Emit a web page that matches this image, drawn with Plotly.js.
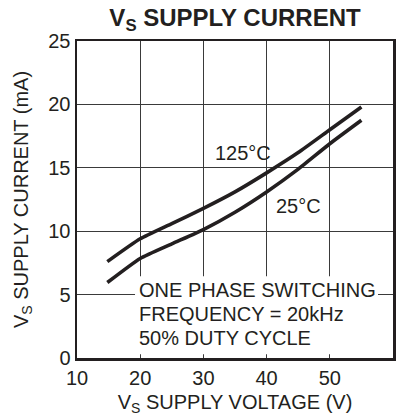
<!DOCTYPE html>
<html>
<head>
<meta charset="utf-8">
<script src="https://cdn.plot.ly/plotly-3.0.1.min.js"></script>
<style>html,body{margin:0;padding:0;background:#fff;}#chart{width:404px;height:416px;}</style>
</head>
<body>
<div id="chart"></div>
<script>
// Data
const voltage = [14.8, 20, 25, 30, 35, 40, 45, 50, 55];
const current125 = [7.6, 9.4, 10.6, 11.8, 13.1, 14.6, 16.2, 18.0, 19.8];
const current25 = [5.95, 7.85, 9.0, 10.13, 11.5, 13.1, 14.9, 16.9, 18.75];
const xTicks = [10, 20, 30, 40, 50, 60];
const yTicks = [0, 5, 10, 15, 20, 25];
const seriesNames = ['125°C', '25°C'];
const noteLines = ['ONE PHASE SWITCHING', 'FREQUENCY = 20kHz', '50% DUTY CYCLE'];

const ink = '#231f20';
const FONT = 'Liberation Sans, Arial, sans-serif';

const traces = [
  {x: voltage, y: current125, name: seriesNames[0], mode: 'lines', line: {color: ink, width: 3.6, shape: 'spline', smoothing: 0.5}, hoverinfo: 'skip'},
  {x: voltage, y: current25, name: seriesNames[1], mode: 'lines', line: {color: ink, width: 3.6, shape: 'spline', smoothing: 0.5}, hoverinfo: 'skip'}
];

const noteY = [5.39, 3.50, 1.58];
const annotations = [
  {x: 36.2, y: 16.2, xref: 'x', yref: 'y', text: seriesNames[0], showarrow: false, font: {family: FONT, size: 20, color: ink}},
  {x: 45.0, y: 12.0, xref: 'x', yref: 'y', text: seriesNames[1], showarrow: false, font: {family: FONT, size: 20, color: ink}}
];
noteLines.forEach((t, i) => annotations.push({
  x: 19.54, y: noteY[i], xref: 'x', yref: 'y', xanchor: 'left', yanchor: 'middle',
  text: t, showarrow: false, font: {family: FONT, size: 20, color: ink}
}));

const layout = {
  width: 404, height: 416,
  margin: {l: 77, r: 11, t: 41, b: 58, autoexpand: false},
  paper_bgcolor: '#fff', plot_bgcolor: '#fff',
  showlegend: false,
  font: {family: FONT, size: 20, color: ink},
  title: {
    text: '<b>V<sub>S</sub> SUPPLY CURRENT</b>',
    font: {family: FONT, size: 24, color: ink},
    x: 0.5, xref: 'paper', xanchor: 'center',
    y: 1 - 18 / 416, yref: 'container', yanchor: 'middle'
  },
  xaxis: {
    range: [10, 60], tickvals: xTicks, ticktext: xTicks.map(String),
    showgrid: true, gridcolor: '#3a3a3a', gridwidth: 1,
    showline: true, mirror: true, linecolor: ink, linewidth: 2.5,
    ticks: '', zeroline: false, fixedrange: true,
    tickfont: {family: FONT, size: 20, color: ink},
    title: {text: 'V<sub>S</sub> SUPPLY VOLTAGE (V)', font: {family: FONT, size: 20, color: ink}, standoff: 8}
  },
  yaxis: {
    range: [0, 25], tickvals: yTicks, ticktext: yTicks.map(String),
    showgrid: true, gridcolor: '#3a3a3a', gridwidth: 1,
    showline: true, mirror: true, linecolor: ink, linewidth: 2.5,
    ticks: '', zeroline: false, fixedrange: true,
    tickfont: {family: FONT, size: 20, color: ink},
    title: {text: 'V<sub>S</sub> SUPPLY CURRENT (mA)', font: {family: FONT, size: 20, color: ink}, standoff: 15}
  },
  shapes: [
    {type: 'rect', xref: 'x', yref: 'y', x0: 19.18, x1: 57.63, y0: 0.3, y1: 6.44,
     fillcolor: '#fff', line: {width: 0}, layer: 'above'}
  ],
  annotations: annotations
};

Plotly.newPlot('chart', traces, layout, {displayModeBar: false, staticPlot: true});
</script>
</body>
</html>
